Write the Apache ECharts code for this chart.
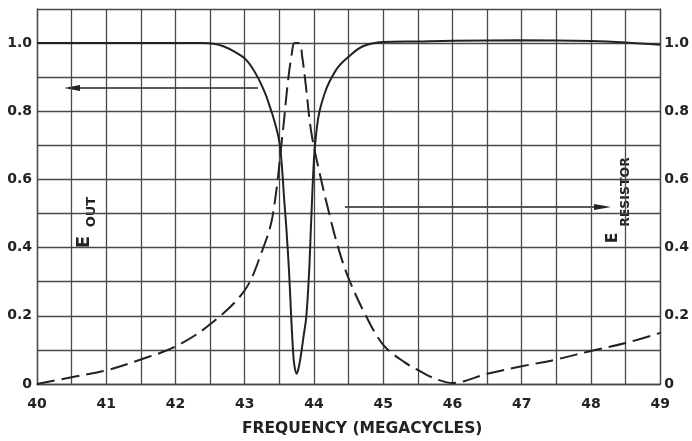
<!DOCTYPE html>
<html>
<head>
<meta charset="utf-8">
<script src="https://cdn.jsdelivr.net/npm/echarts@6/dist/echarts.min.js"></script>
<style>html,body{margin:0;padding:0;background:#fff;}#c{width:692px;height:441px;}</style>
</head>
<body>
<div id="c"></div>
<script>
// Frequency (MHz) and E_out (solid)
const outFreq = [40, 41, 42, 42.4, 42.55, 42.7, 42.85, 43.0, 43.1, 43.2, 43.3, 43.36, 43.43, 43.5, 43.54, 43.57, 43.6, 43.64, 43.67, 43.7, 43.72, 43.75, 43.77, 43.8, 43.85, 43.89, 43.93, 43.96, 44.0, 44.04, 44.08, 44.15, 44.22, 44.35, 44.5, 44.7, 45.0, 45.5, 46, 47, 48, 48.5, 49];
const outVal  = [1.0, 1.0, 1.0, 1.0, 0.998, 0.99, 0.975, 0.955, 0.93, 0.895, 0.85, 0.815, 0.77, 0.71, 0.63, 0.54, 0.46, 0.33, 0.2, 0.09, 0.05, 0.03, 0.04, 0.07, 0.14, 0.2, 0.33, 0.48, 0.66, 0.75, 0.8, 0.85, 0.885, 0.93, 0.96, 0.99, 1.003, 1.005, 1.007, 1.008, 1.006, 1.002, 0.995];
// Frequency (MHz) and E_resistor (dashed)
const resFreq = [40, 40.5, 41, 41.5, 42, 42.5, 43.0, 43.25, 43.4, 43.55, 43.62, 43.68, 43.72, 43.79, 43.83, 43.88, 43.96, 44.08, 44.22, 44.35, 44.5, 44.75, 45.0, 45.3, 45.6, 45.8, 46, 46.5, 47, 47.5, 48, 48.5, 49];
const resVal  = [0.0, 0.02, 0.04, 0.072, 0.11, 0.175, 0.275, 0.39, 0.49, 0.74, 0.88, 0.97, 1.0, 1.0, 0.96, 0.88, 0.74, 0.62, 0.5, 0.4, 0.31, 0.2, 0.115, 0.065, 0.03, 0.012, 0.003, 0.03, 0.052, 0.072, 0.097, 0.12, 0.15];
// Tick labels
const xTickLabels = ['40','41','42','43','44','45','46','47','48','49'];
const yTickLabels = ['0','0.2','0.4','0.6','0.8','1.0'];

const ink = '#222';
const gridColor = '#4a4a44';
const labelFont = {color: ink, fontFamily: 'DejaVu Sans', fontWeight: 'bold', fontSize: 14};

function xFmt(v){ const k = Math.round((v-40)*2); return (k%2===0) ? xTickLabels[k/2] : ''; }
function yFmt(v){ const k = Math.round(v*10); return (k%2===0 && k<=10) ? yTickLabels[k/2] : ''; }

const chart = echarts.init(document.getElementById('c'), null, {renderer:'canvas'});
chart.setOption({
  animation: false,
  backgroundColor: '#fff',
  grid: {left: 37, right: 30, top: 9, bottom: 57},
  xAxis: {
    type: 'value', min: 40, max: 49, interval: 0.5,
    axisLine: {show: true, lineStyle: {color: gridColor, width: 1.3}},
    axisTick: {show: false},
    splitLine: {show: true, lineStyle: {color: gridColor, width: 1.3}},
    axisLabel: Object.assign({formatter: xFmt, margin: 13}, labelFont)
  },
  yAxis: [{
    type: 'value', min: 0, max: 1.1, interval: 0.1, position: 'left',
    axisLine: {show: true, lineStyle: {color: gridColor, width: 1.3}},
    axisTick: {show: false},
    splitLine: {show: true, lineStyle: {color: gridColor, width: 1.3}},
    axisLabel: Object.assign({formatter: yFmt, margin: 5}, labelFont)
  },{
    type: 'value', min: 0, max: 1.1, interval: 0.1, position: 'right',
    axisLine: {show: true, lineStyle: {color: gridColor, width: 1.3}},
    axisTick: {show: false},
    splitLine: {show: false},
    axisLabel: Object.assign({formatter: yFmt, margin: 4}, labelFont)
  }],
  series: [{
    type: 'line', name: 'E out', showSymbol: false, smooth: 0.35,
    data: outFreq.map((f,i)=>[f, outVal[i]]),
    lineStyle: {color: ink, width: 2}
  },{
    type: 'line', name: 'E resistor', showSymbol: false, smooth: 0.35,
    data: resFreq.map((f,i)=>[f, resVal[i]]),
    lineStyle: {color: ink, width: 2, type: [18, 7]}
  }],
  graphic: [
    {type: 'text', left: 242, top: 421, style: {text: 'FREQUENCY (MEGACYCLES)', font: 'bold 15.5px "DejaVu Sans"', fill: ink}},
    // E_out label (rotated)
    {type: 'text', x: 84, y: 242, rotation: Math.PI/2, style: {text: 'E', font: 'bold 18px "DejaVu Sans"', fill: ink, align: 'center', verticalAlign: 'middle'}},
    {type: 'text', x: 92, y: 212, rotation: Math.PI/2, style: {text: 'OUT', font: 'bold 13px "DejaVu Sans"', fill: ink, align: 'center', verticalAlign: 'middle'}},
    // E_resistor label (rotated)
    {type: 'text', x: 613, y: 238, rotation: Math.PI/2, style: {text: 'E', font: 'bold 15px "DejaVu Sans"', fill: ink, align: 'center', verticalAlign: 'middle'}},
    {type: 'text', x: 626, y: 192, rotation: Math.PI/2, style: {text: 'RESISTOR', font: 'bold 12.5px "DejaVu Sans"', fill: ink, align: 'center', verticalAlign: 'middle'}},
    // arrows
    {type: 'line', shape: {x1: 70, y1: 88, x2: 258, y2: 88}, style: {stroke: ink, lineWidth: 1.3}},
    {type: 'polygon', shape: {points: [[64, 88], [80, 85], [80, 91]]}, style: {fill: ink}},
    {type: 'line', shape: {x1: 345, y1: 207, x2: 600, y2: 207}, style: {stroke: ink, lineWidth: 1.3}},
    {type: 'polygon', shape: {points: [[611, 207], [594, 204], [594, 210]]}, style: {fill: ink}}
  ]
});
</script>
</body>
</html>
